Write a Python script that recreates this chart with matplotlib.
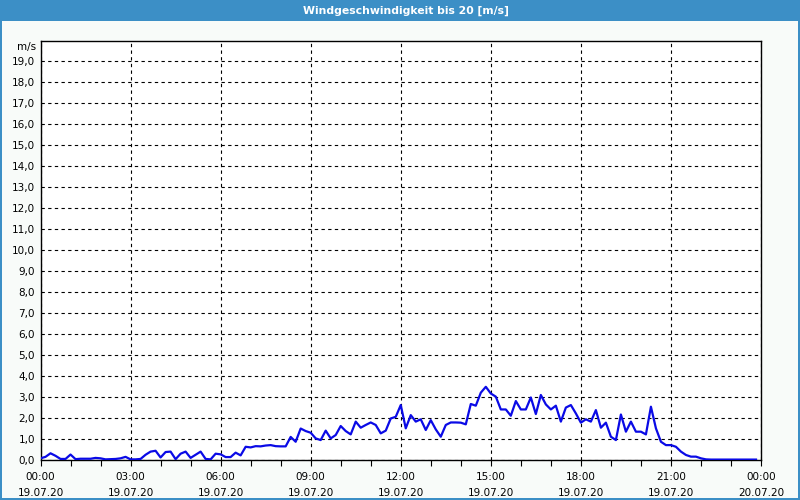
import matplotlib
matplotlib.use("Agg")
import matplotlib.pyplot as plt
import matplotlib.dates as mdates
from matplotlib.patches import Rectangle
import pandas as pd

title = "Windgeschwindigkeit bis 20 [m/s]"
unit_label = "m/s"
start_time = "2020-07-19 00:00"
end_time = "2020-07-20 00:00"
step = "10min"

# wind speed, one value every 10 minutes (m/s)
wind_speed = [
    0.08, 0.15, 0.32, 0.20, 0.05, 0.05, 0.26, 0.04, 0.06, 0.06, 0.06, 0.10,
    0.08, 0.03, 0.04, 0.05, 0.08, 0.15, 0.03, 0.03, 0.05, 0.25, 0.40, 0.44,
    0.12, 0.38, 0.40, 0.04, 0.30, 0.40, 0.10, 0.25, 0.40, 0.05, 0.03, 0.30,
    0.27, 0.14, 0.14, 0.35, 0.22, 0.63, 0.60, 0.66, 0.65, 0.69, 0.71, 0.66,
    0.65, 0.65, 1.10, 0.87, 1.50, 1.38, 1.30, 1.03, 0.95, 1.40, 1.03, 1.19,
    1.62, 1.38, 1.22, 1.83, 1.54, 1.67, 1.79, 1.67, 1.27, 1.40, 1.98, 2.06,
    2.62, 1.51, 2.14, 1.83, 1.94, 1.43, 1.90, 1.46, 1.11, 1.67, 1.79, 1.79,
    1.78, 1.70, 2.67, 2.59, 3.21, 3.49, 3.17, 3.02, 2.41, 2.41, 2.11, 2.81,
    2.41, 2.41, 2.98, 2.19, 3.10, 2.65, 2.41, 2.59, 1.83, 2.50, 2.62, 2.22,
    1.78, 1.94, 1.83, 2.38, 1.54, 1.78, 1.11, 0.95, 2.17, 1.35, 1.83, 1.35,
    1.35, 1.22, 2.54, 1.51, 0.87, 0.71, 0.71, 0.63, 0.40, 0.24, 0.16, 0.16,
    0.08, 0.03, 0.02, 0.02, 0.02, 0.02, 0.02, 0.02, 0.02, 0.02, 0.02, 0.02,
]
y_ticks = list(range(0, 20))
y_tick_labels = [f"{v},0" for v in y_ticks]

blue = "#3c8fc6"
bg = "#f8fbf9"

fig = plt.figure(figsize=(8, 5), dpi=100, facecolor=bg)
W, H = 800, 500

# title bar and frame
fig.add_artist(Rectangle((0, 1 - 20.7 / H), 1, 20.7 / H, transform=fig.transFigure,
                         facecolor=blue, edgecolor="none", zorder=0))
fig.add_artist(Rectangle((0, 0), 2 / W, 1, transform=fig.transFigure,
                         facecolor=blue, edgecolor="none", zorder=0))
fig.add_artist(Rectangle((1 - 2 / W, 0), 2 / W, 1, transform=fig.transFigure,
                         facecolor=blue, edgecolor="none", zorder=0))
fig.add_artist(Rectangle((0, 0), 1, 2 / H, transform=fig.transFigure,
                         facecolor=blue, edgecolor="none", zorder=0))
fig.text(406 / W, 1 - 10.5 / H, title, color="white", fontsize=7.8,
         fontweight="bold", family="DejaVu Sans", ha="center", va="center")

ax = fig.add_axes([40.5 / W, 40 / H, 720.5 / W, 419.5 / H])
ax.set_facecolor("white")

times = pd.date_range(start_time, periods=len(wind_speed), freq=step)
ax.plot(times, wind_speed, color="#0a0ae6", lw=1.6, zorder=3)

ax.set_xlim(pd.Timestamp(start_time), pd.Timestamp(end_time))
ax.set_ylim(0, 20)

ax.xaxis.set_major_locator(mdates.HourLocator(byhour=range(0, 24, 3)))
ax.xaxis.set_minor_locator(mdates.HourLocator())
ax.xaxis.set_major_formatter(mdates.DateFormatter("%H:%M\n%d.%m.%y"))
ax.set_yticks(y_ticks)
ax.set_yticklabels(y_tick_labels)

ax.grid(True, which="major", color="black", linestyle=(0, (3, 3)), linewidth=0.8)
ax.tick_params(axis="y", length=0, pad=4, labelsize=7.5)
ax.tick_params(axis="x", which="both", direction="out", length=4, width=0.8,
               pad=5, labelsize=7.5)
for lab in ax.get_xticklabels():
    lab.set_linespacing(1.75)
for s in ax.spines.values():
    s.set_color("black")
    s.set_linewidth(1)

ax.text(-4 / 720.5, 19.7, unit_label, transform=ax.get_yaxis_transform(),
        ha="right", va="center", fontsize=7.5)

fig.savefig("out.png", dpi=100, facecolor=fig.get_facecolor())
